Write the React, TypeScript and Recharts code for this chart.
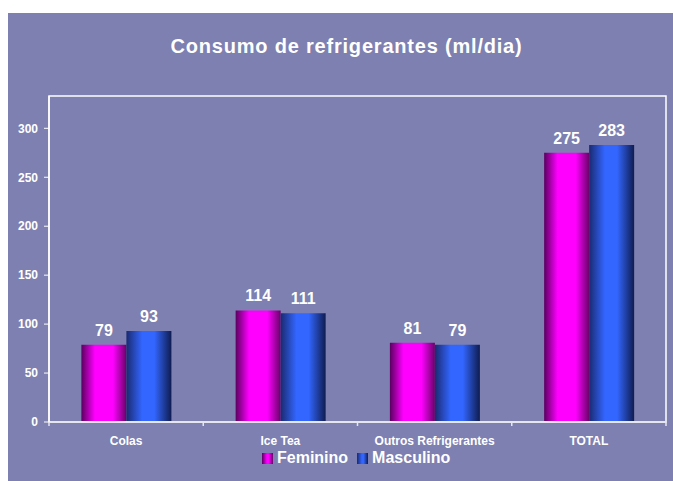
import React from "react";
import {
  Bar,
  BarChart,
  LabelList,
  ReferenceArea,
  XAxis,
  YAxis,
} from "recharts";

const categories = ["Colas", "Ice Tea", "Outros Refrigerantes", "TOTAL"];
const feminino = [79, 114, 81, 275];
const masculino = [93, 111, 79, 283];
const yTicks = [0, 50, 100, 150, 200, 250, 300];
const seriesNames = ["Feminino", "Masculino"];

const data = categories.map((name, i) => ({
  name,
  Feminino: feminino[i],
  Masculino: masculino[i],
}));

const W = 665;
const H = 468;
const BG = "#7D80B0";
const FONT = "'Liberation Sans', Arial, sans-serif";
const PLOT_W = 617;
const BAND = PLOT_W / categories.length;

function XTick(props: any) {
  const { x, y, payload, index } = props;
  const half = BAND / 2;
  const last = index === categories.length - 1;
  return (
    <g>
      <line x1={x - half} x2={x - half} y1={y} y2={y + 4} stroke="#E6E6F0" strokeWidth={1.5} />
      {last && (
        <line x1={x + half} x2={x + half} y1={y} y2={y + 4} stroke="#E6E6F0" strokeWidth={1.5} />
      )}
      <text
        x={x}
        y={y + 23}
        textAnchor="middle"
        fill="#fff"
        fontSize={12}
        fontWeight="bold"
        fontFamily={FONT}
      >
        {payload.value}
      </text>
    </g>
  );
}

const legendColors = ["url(#gradF)", "url(#gradM)"];
const swatchBg = [
  "linear-gradient(to right, #5a0060, #ff00ff 45%, #ff00ff 60%, #6a006a)",
  "linear-gradient(to right, #1a2a70, #3366ff 45%, #3366ff 60%, #0f1c50)",
];

export default function App() {
  return (
    <div
      style={{
        position: "absolute",
        left: 8,
        top: 13,
        width: W,
        height: H,
        background: BG,
        fontFamily: FONT,
      }}
    >
      <div
        style={{
          position: "absolute",
          left: 12,
          right: 0,
          top: 22,
          textAlign: "center",
          color: "#fff",
          fontWeight: "bold",
          fontSize: 20,
          letterSpacing: 0.8,
        }}
      >
        Consumo de refrigerantes (ml/dia)
      </div>
      <BarChart
        width={W}
        height={H}
        data={data}
        margin={{ top: 83, right: 7, left: 0, bottom: 0 }}
        barGap={0}
        barCategoryGap="21%"
      >
        <defs>
          <linearGradient id="gradF" x1="0" y1="0" x2="1" y2="0">
            <stop offset="0%" stopColor="#5a0060" />
            <stop offset="30%" stopColor="#ff00ff" />
            <stop offset="70%" stopColor="#ff00ff" />
            <stop offset="100%" stopColor="#6a006a" />
          </linearGradient>
          <linearGradient id="gradM" x1="0" y1="0" x2="1" y2="0">
            <stop offset="0%" stopColor="#1a2a70" />
            <stop offset="35%" stopColor="#3366ff" />
            <stop offset="62%" stopColor="#3366ff" />
            <stop offset="100%" stopColor="#0f1c50" />
          </linearGradient>
        </defs>
        <ReferenceArea y1={0} y2={333} fill="none" stroke="#fff" strokeWidth={1.5} ifOverflow="visible" />
        <XAxis
          dataKey="name"
          height={59}
          tickSize={0}
          tickMargin={0}
          tickLine={false}
          tick={<XTick />}
          axisLine={{ stroke: "#E6E6F0", strokeWidth: 2 }}
          interval={0}
        />
        <YAxis
          width={41}
          domain={[0, 333]}
          ticks={yTicks}
          tickSize={5}
          tickMargin={6}
          tickLine={{ stroke: "#fff" }}
          axisLine={{ stroke: "#fff", strokeWidth: 1.5 }}
          tick={{ fill: "#fff", fontSize: 12, fontWeight: "bold", fontFamily: FONT }}
          allowDataOverflow
        />
        {seriesNames.map((s, i) => (
          <Bar key={s} dataKey={s} fill={legendColors[i]} isAnimationActive={false}>
            <LabelList
              dataKey={s}
              position="top"
              offset={9}
              fill="#fff"
              fontSize={16}
              fontWeight="bold"
              fontFamily={FONT}
            />
          </Bar>
        ))}
      </BarChart>
      <div
        style={{
          position: "absolute",
          left: 254,
          top: 436,
          display: "flex",
          alignItems: "center",
          color: "#fff",
          fontWeight: "bold",
          fontSize: 16,
          lineHeight: "18px",
        }}
      >
        {seriesNames.map((s, i) => (
          <div key={s} style={{ display: "flex", alignItems: "center", marginRight: 9 }}>
            <span
              style={{
                display: "inline-block",
                width: 11,
                height: 11,
                background: swatchBg[i],
                marginRight: 4,
              }}
            />
            {s}
          </div>
        ))}
      </div>
    </div>
  );
}
